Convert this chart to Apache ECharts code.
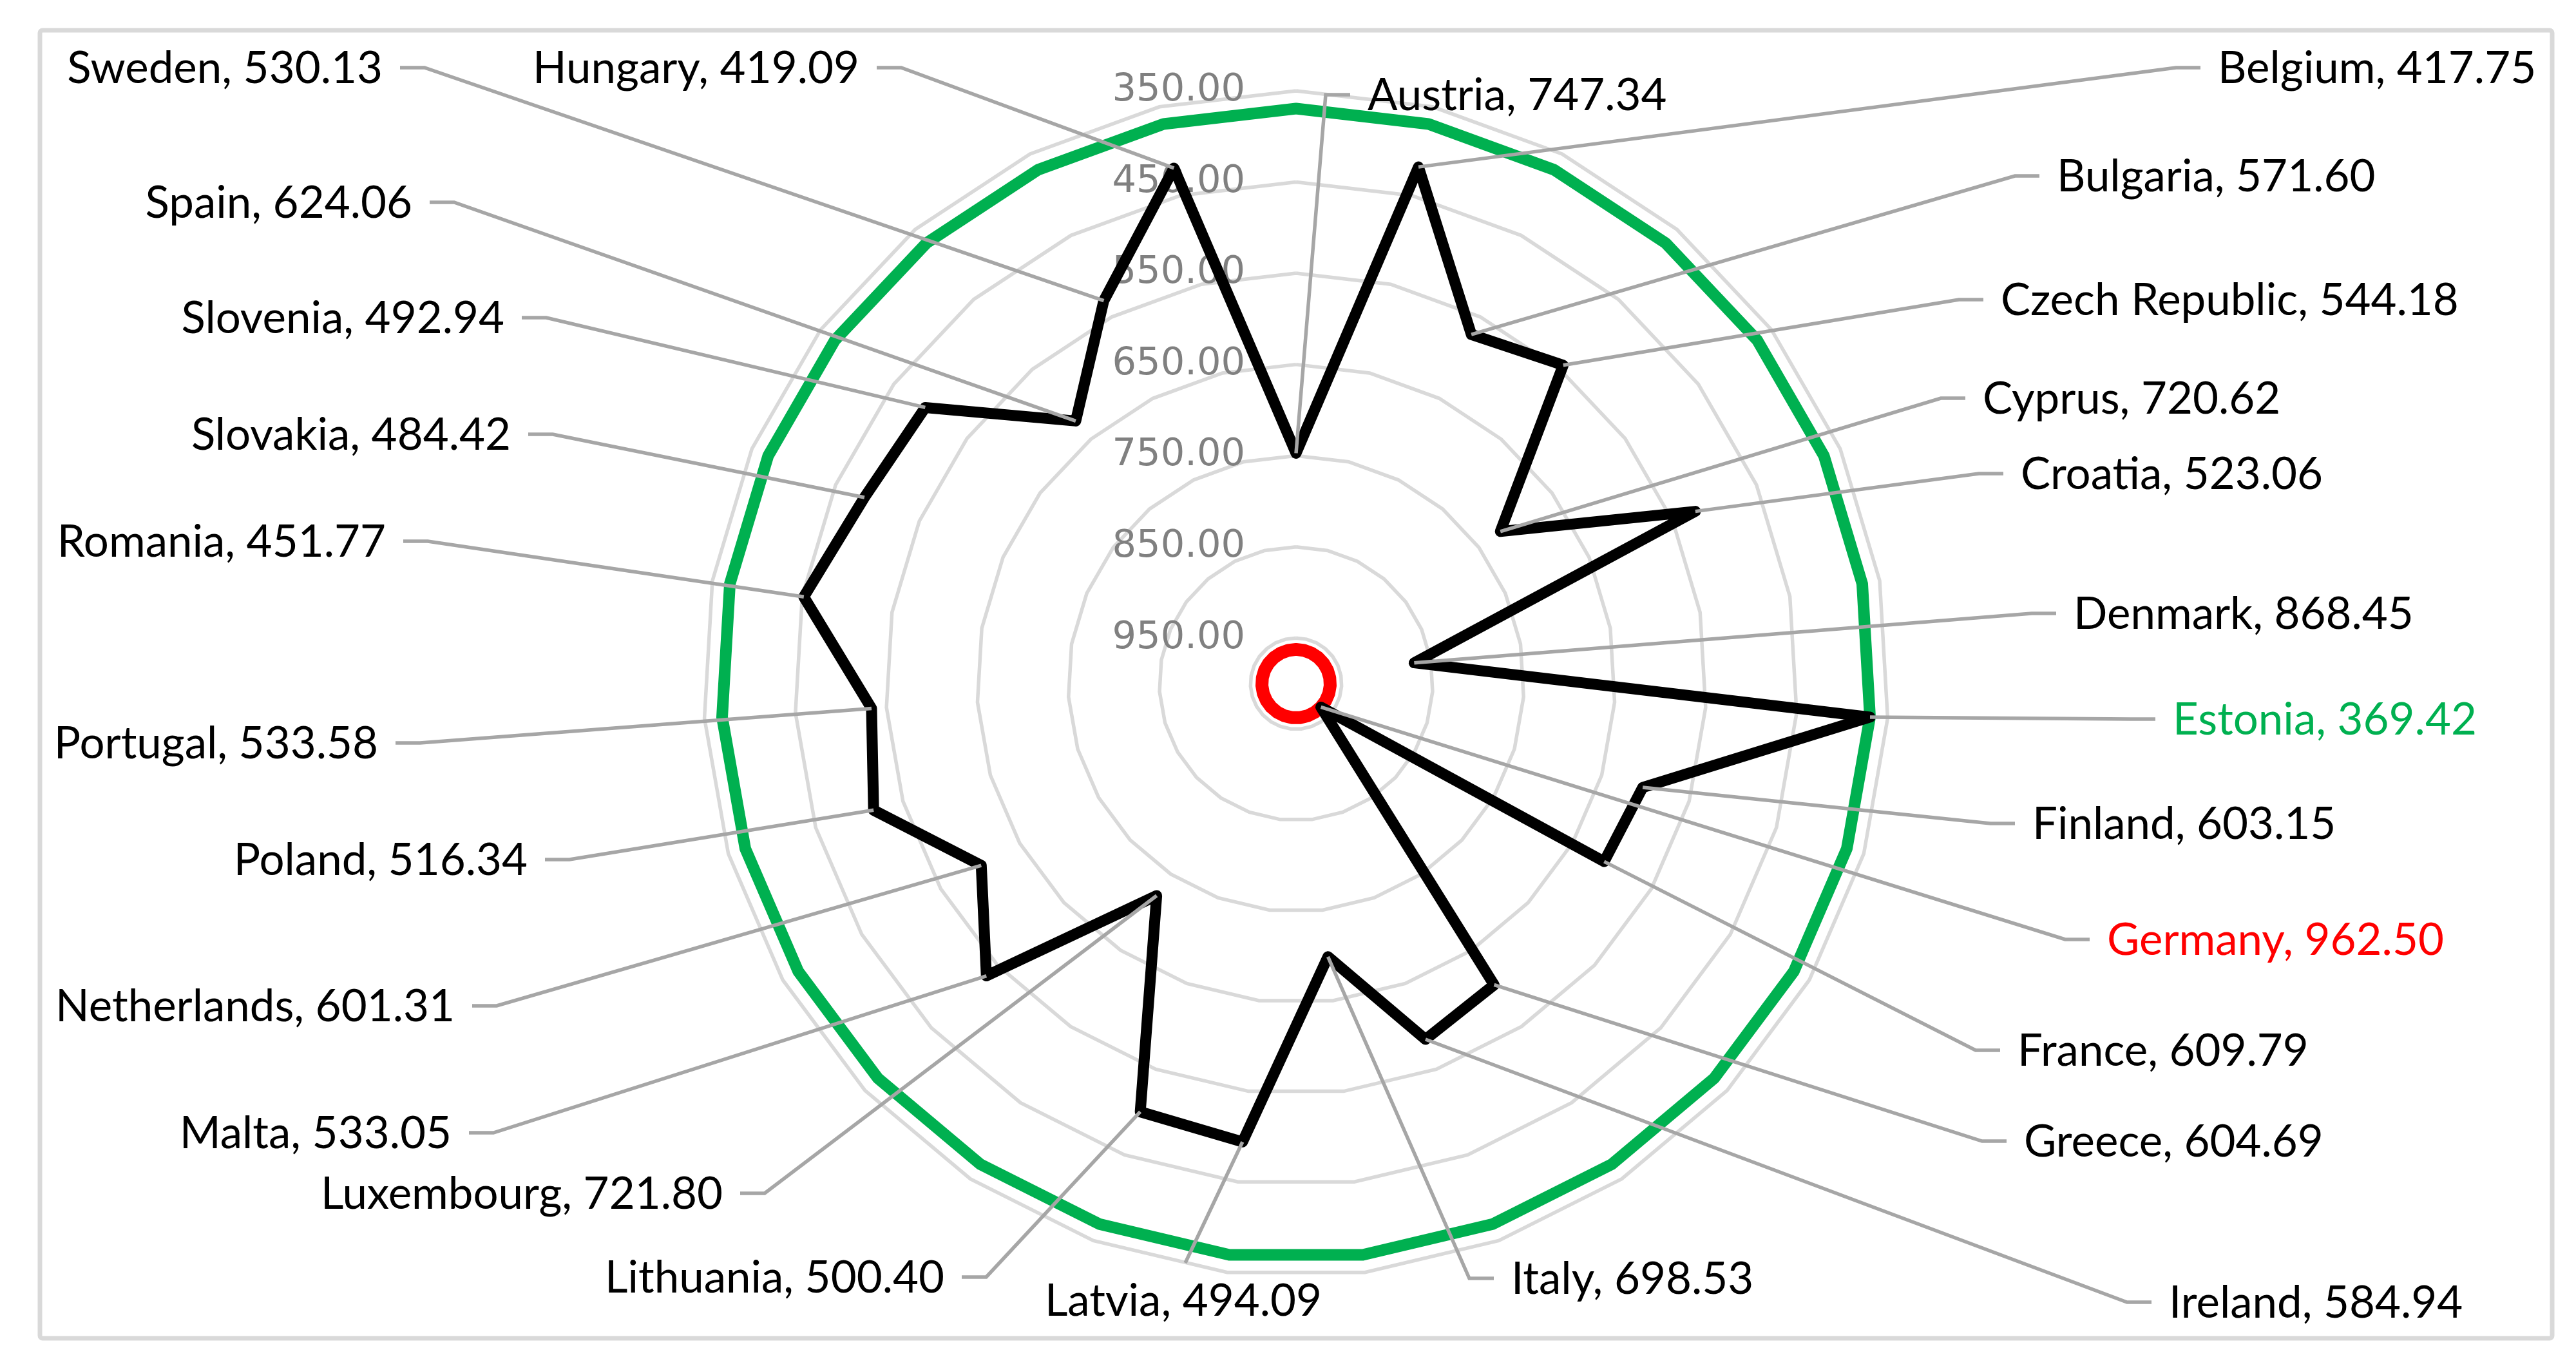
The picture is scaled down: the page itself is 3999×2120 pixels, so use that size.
<!DOCTYPE html>
<html>
<head>
<meta charset="utf-8">
<title>EU radar</title>
<script src="https://cdn.jsdelivr.net/npm/echarts@6/dist/echarts.min.js"></script>
<style>
    html, body { margin: 0; padding: 0; background: #fff; }
    #chart { width: 3999px; height: 2120px; }
</style>
</head>
<body>
<div id="chart"></div>
<script>
// categories, clockwise from the top
const countries = ['Austria', 'Belgium', 'Bulgaria', 'Czech Republic', 'Cyprus', 'Croatia', 'Denmark',
    'Estonia', 'Finland', 'France', 'Germany', 'Greece', 'Ireland', 'Italy', 'Latvia', 'Lithuania',
    'Luxembourg', 'Malta', 'Netherlands', 'Poland', 'Portugal', 'Romania', 'Slovakia', 'Slovenia',
    'Spain', 'Sweden', 'Hungary'];

const scores = [747.34, 417.75, 571.60, 544.18, 720.62, 523.06, 868.45,
    369.42, 603.15, 609.79, 962.50, 604.69, 584.94, 698.53, 494.09, 500.40,
    721.80, 533.05, 601.31, 516.34, 533.58, 451.77, 484.42, 492.94,
    624.06, 530.13, 419.09];

// best (Estonia) and worst (Germany) reference rings
const bestLine = [369.42, 369.42, 369.42, 369.42, 369.42, 369.42, 369.42, 369.42, 369.42,
    369.42, 369.42, 369.42, 369.42, 369.42, 369.42, 369.42, 369.42, 369.42,
    369.42, 369.42, 369.42, 369.42, 369.42, 369.42, 369.42, 369.42, 369.42];
const worstLine = [962.50, 962.50, 962.50, 962.50, 962.50, 962.50, 962.50, 962.50, 962.50,
    962.50, 962.50, 962.50, 962.50, 962.50, 962.50, 962.50, 962.50, 962.50,
    962.50, 962.50, 962.50, 962.50, 962.50, 962.50, 962.50, 962.50, 962.50];

// radial axis (reversed: 350 outside, 1000 in the middle)
const axisMin = 350;
const axisMax = 1000;
const axisStep = 100;

// where each data label sits: [x, y, side] (side = which way the text runs from its leader)
const labelLayout = [
    [2123, 149, 'R'], [3443, 107, 'R'], [3193, 275, 'R'], [3106, 467, 'R'], [3078, 620, 'R'],
    [3137, 737, 'R'], [3219, 954, 'R'], [3373, 1118, 'R'], [3155, 1280, 'R'], [3132, 1632, 'R'],
    [3271, 1460, 'R'], [3142, 1773, 'R'], [3367, 2023, 'R'], [2346, 1986, 'R'], [1837, 2020, 'T'],
    [1466, 1984, 'L'], [1122, 1854, 'L'], [701, 1760, 'L'], [706, 1563, 'L'], [819, 1336, 'L'],
    [587, 1155, 'L'], [599, 842, 'L'], [793, 676, 'L'], [783, 495, 'L'], [640, 316, 'L'],
    [594, 107, 'L'], [1334, 107, 'L']
];
const labelColors = { Estonia: '#00b050', Germany: '#ff0000' };

const center = [2012, 1061];
const radius = 920;

const chart = echarts.init(document.getElementById('chart'));

function ringSeries(name, values, color, width, z) {
    return {
        type: 'custom',
        name: name,
        coordinateSystem: 'polar',
        z: z,
        silent: true,
        clip: false,
        data: values.map((v, i) => [v, i]),
        encode: { radius: 0, angle: 1 },
        renderItem: function (params, api) {
            if (params.dataIndex !== 0) {
                return;
            }
            const pts = values.map((v, i) => api.coord([v, i]));
            return {
                type: 'polygon',
                shape: { points: pts },
                style: { fill: 'none', stroke: color, lineWidth: width, lineJoin: 'round' }
            };
        }
    };
}

const gap = 27;
const stub = 38;

const option = {
    animation: false,
    backgroundColor: '#fff',
    graphic: [{
        type: 'rect',
        z: 0,
        silent: true,
        shape: { x: 62, y: 47, width: 3900, height: 2030, r: 4 },
        style: { fill: 'none', stroke: '#d9d9d9', lineWidth: 7 }
    }],
    // polygon grid rings (every other ring drawn, so they land on 350, 450 ... 950)
    radar: {
        z: 0,
        center: center,
        radius: radius,
        startAngle: 90,
        shape: 'polygon',
        splitNumber: 13,
        silent: true,
        indicator: countries.map(name => ({ name: name, min: 0, max: 13 })),
        axisName: { show: false },
        axisLine: { show: false },
        axisTick: { show: false },
        axisLabel: { show: false },
        splitArea: { show: false },
        splitLine: {
            lineStyle: { color: ['rgba(0,0,0,0)', '#d9d9d9'], width: 5.5 }
        }
    },
    polar: { center: center, radius: radius },
    angleAxis: {
        type: 'category',
        data: countries,
        boundaryGap: false,
        startAngle: 90,
        clockwise: true,
        axisLine: { show: false },
        axisTick: { show: false },
        axisLabel: { show: false },
        splitLine: { show: false }
    },
    radiusAxis: {
        type: 'value',
        z: 1,
        min: axisMin,
        max: axisMax,
        interval: axisStep,
        inverse: true,
        axisLine: { show: false },
        axisTick: { show: false },
        splitLine: { show: false },
        axisLabel: {
            margin: 79,
            color: '#808080',
            fontFamily: 'DejaVu Sans',
            fontSize: 59,
            showMaxLabel: false,
            formatter: v => v.toFixed(2)
        }
    },
    series: [
        ringSeries('Estonia', bestLine, '#00b050', 18, 2),
        ringSeries('Germany', worstLine, '#ff0000', 20, 2),
        ringSeries('Score', scores, '#000000', 17, 3),
        {
            type: 'custom',
            name: 'labels',
            coordinateSystem: 'polar',
            z: 4,
            silent: true,
            clip: false,
            data: scores.map((v, i) => [v, i]),
            encode: { radius: 0, angle: 1 },
            renderItem: function (params, api) {
                const i = params.dataIndex;
                const p = api.coord([scores[i], i]);
                const [tx, ty, side] = labelLayout[i];
                let pts, align;
                if (side === 'L') {
                    pts = [[tx + gap, ty - 2], [tx + gap + stub, ty - 2], p];
                    align = 'right';
                } else if (side === 'R') {
                    pts = [[tx - gap, ty - 2], [tx - gap - stub, ty - 2], p];
                    align = 'left';
                } else {
                    pts = [[tx + 3, ty - 60], p];
                    align = 'center';
                }
                return {
                    type: 'group',
                    children: [{
                        type: 'polyline',
                        shape: { points: pts },
                        style: { fill: 'none', stroke: '#a6a6a6', lineWidth: 5.5 }
                    }, {
                        type: 'text',
                        x: tx,
                        y: ty,
                        style: {
                            text: countries[i] + ', ' + scores[i].toFixed(2),
                            fill: labelColors[countries[i]] || '#000000',
                            fontFamily: 'Lato',
                            fontSize: 69,
                            align: align,
                            verticalAlign: 'middle'
                        }
                    }]
                };
            }
        }
    ]
};

chart.setOption(option);
</script>
</body>
</html>
